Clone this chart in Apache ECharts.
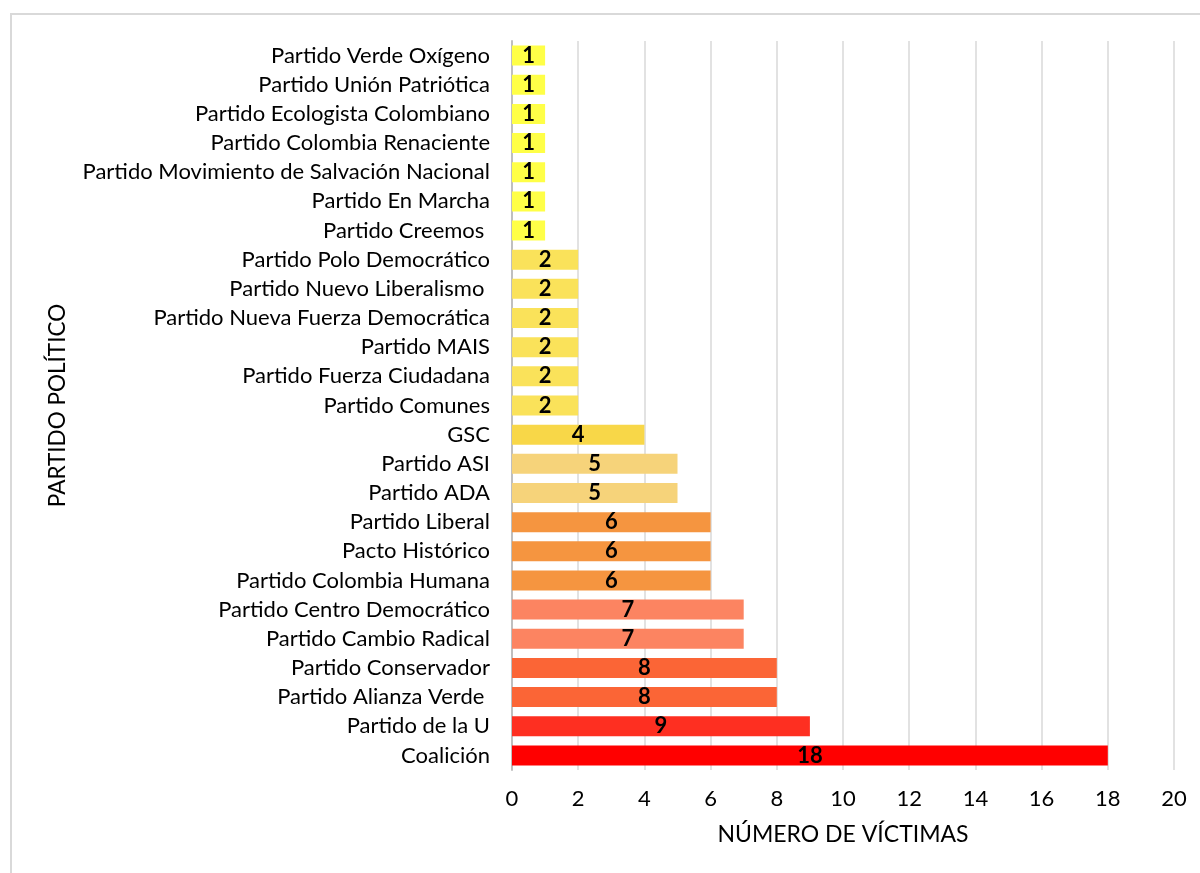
<!DOCTYPE html>
<html>
<head>
<meta charset="utf-8">
<script src="https://cdn.jsdelivr.net/npm/echarts@6/dist/echarts.min.js"></script>
<style>
html,body{margin:0;padding:0;background:#fff;overflow:hidden;}
#frame{position:absolute;left:10px;top:13px;width:1300px;height:1000px;border:2px solid #d9d9d9;box-sizing:border-box;}
#chart{position:absolute;left:0;top:0;width:1200px;height:873px;}
</style>
</head>
<body>
<div id="frame"></div>
<div id="chart"></div>
<script>
// Categories listed bottom to top
var categories = [
  "Coalición",
  "Partido de la U",
  "Partido Alianza Verde ",
  "Partido Conservador",
  "Partido Cambio Radical",
  "Partido Centro Democrático",
  "Partido Colombia Humana",
  "Pacto Histórico",
  "Partido Liberal",
  "Partido ADA",
  "Partido ASI",
  "GSC",
  "Partido Comunes",
  "Partido Fuerza Ciudadana",
  "Partido MAIS",
  "Partido Nueva Fuerza Democrática",
  "Partido Nuevo Liberalismo ",
  "Partido Polo Democrático",
  "Partido Creemos ",
  "Partido En Marcha",
  "Partido Movimiento de Salvación Nacional",
  "Partido Colombia Renaciente",
  "Partido Ecologista Colombiano",
  "Partido Unión Patriótica",
  "Partido Verde Oxígeno"
];
var victims = [18, 9, 8, 8, 7, 7, 6, 6, 6, 5, 5, 4, 2, 2, 2, 2, 2, 2, 1, 1, 1, 1, 1, 1, 1];
var xTicks = [0, 2, 4, 6, 8, 10, 12, 14, 16, 18, 20];

var colorByValue = {1:"#FFFF47",2:"#FAE25A",4:"#F8D748",5:"#F6D37A",6:"#F59540",7:"#FC8461",8:"#FB6536",9:"#FE2F21",18:"#FF0000"};

var FONT = "Lato";
var chart = echarts.init(document.getElementById('chart'));
chart.setOption({
  animation:false,
  grid:{left:512,right:26,top:41,bottom:103,containLabel:false},
  xAxis:{
    type:'value',min:xTicks[0],max:xTicks[xTicks.length-1],interval:2,
    axisLine:{show:false},axisTick:{show:false},
    splitLine:{show:true,lineStyle:{color:'#d9d9d9',width:1.5}},
    axisLabel:{color:'#000',fontSize:22,fontFamily:FONT,margin:18},
    name:'NÚMERO DE VÍCTIMAS',nameLocation:'middle',nameGap:53,
    nameTextStyle:{color:'#000',fontSize:23,fontFamily:FONT}
  },
  yAxis:{
    type:'category',data:categories,
    axisLine:{show:true,lineStyle:{color:'#bfbfbf',width:2}},
    axisTick:{show:false},
    axisLabel:{color:'#000',fontSize:22,fontFamily:FONT,margin:22},
    name:'PARTIDO POLÍTICO',nameLocation:'middle',nameGap:443,
    nameTextStyle:{color:'#000',fontSize:22.5,fontFamily:FONT}
  },
  series:[{
    type:'bar',
    data:victims.map(function(v){return {value:v,itemStyle:{color:colorByValue[v]}};}),
    barWidth:20,
    label:{show:true,position:'inside',color:'#000',fontWeight:'bold',fontSize:22,fontFamily:FONT}
  }]
});
</script>
</body>
</html>
